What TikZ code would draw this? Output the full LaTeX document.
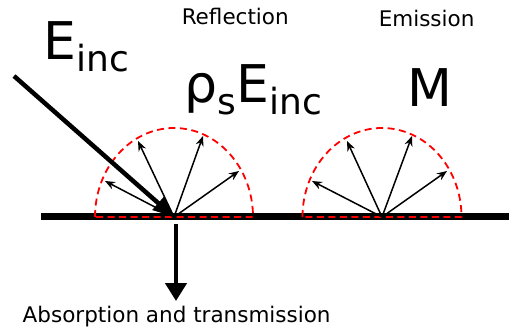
\documentclass[tikz,border=0pt]{standalone}
\usepackage{fontspec}
\setmainfont{DejaVu Sans}
\usetikzlibrary{arrows.meta,positioning}
\tikzset{
  every picture/.style={line width=1.5pt},
  ssurf/.style={line width=6.5pt},
  slobe/.style={red, dash pattern=on 7pt off 4.5pt, line width=1.8pt},
  sray/.style={line width=1.5pt, -{Stealth[length=10pt,width=8pt]}},
  sbeam/.style={line width=4.5pt, -{Triangle[length=21pt,width=17pt]}},
  sdown/.style={line width=4.5pt, -{Triangle[length=18pt,width=21pt]}},
  sbig/.style={inner sep=0pt, anchor=base west, font=\fontsize{52}{52}\selectfont},
  ssmall/.style={inner sep=0pt, anchor=base west, font=\fontsize{21.5}{21.5}\selectfont},
}
\newcommand{\lowsub}[1]{\raisebox{-11.5pt}{\fontsize{36}{36}\selectfont #1}}

\begin{document}
\begin{tikzpicture}[x=1pt,y=-1pt]
  \useasboundingbox (0,0) rectangle (509,334);
  \coordinate (refl) at (174,217);
  \coordinate (emit) at (382,217);
  \coordinate (src) at (14,76);
  \coordinate (dtop) at (176,224);
  \coordinate (sink) at (176,301);
  \coordinate (sl) at (41,216.5);
  \coordinate (sr) at (509,216.5);
  % surface
  \draw[ssurf] (sl) -- (sr);
  % lobes
  \draw[slobe] (refl) ++(-79,0) arc[start angle=180, end angle=0,
        x radius=79pt, y radius=89pt] -- cycle;
  \draw[slobe] (emit) ++(-79.5,0) arc[start angle=180, end angle=0,
        x radius=79.5pt, y radius=89pt] -- cycle;
  % reflected rays
  \draw[sray] (refl) -- ++(-69,-36);
  \draw[sray] (refl) -- ++(-36,-76);
  \draw[sray] (refl) -- ++(29,-81);
  \draw[sray] (refl) -- ++(65,-46);
  % emitted rays
  \draw[sray] (emit) -- ++(-70,-36);
  \draw[sray] (emit) -- ++(-35,-76);
  \draw[sray] (emit) -- ++(30,-81);
  \draw[sray] (emit) -- ++(65,-46);
  % incident and absorbed
  \draw[sbeam] (src) -- (refl);
  \draw[sdown] (dtop) -- (sink);
  % labels
  \node[sbig] (lEinc) at (43,60) {E\lowsub{inc}};
  \node[sbig] (lRho) at (184,103) {ρ\lowsub{s}E\lowsub{inc}};
  \node[sbig] (lM) at (407,107) {M};
  \node[ssmall] (tRefl) at (181,25) {Reflection};
  \node[ssmall] (tEmit) at (378,27) {Emission};
  \node[ssmall] (tAbs) at (22,322) {Absorption and transmission};
\end{tikzpicture}
\end{document}
